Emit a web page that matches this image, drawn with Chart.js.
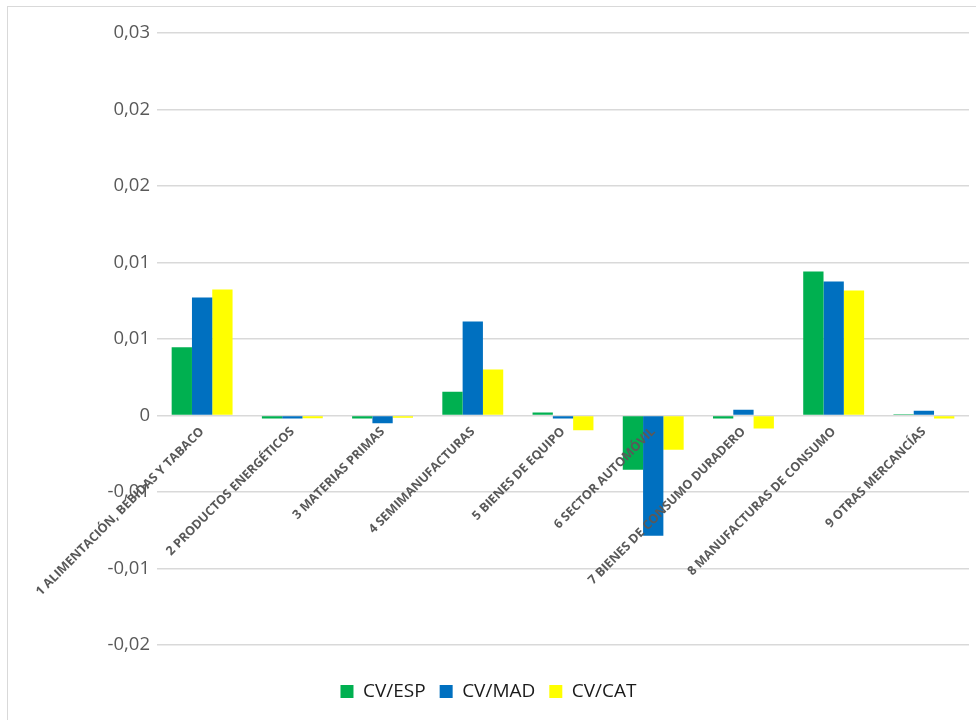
<!DOCTYPE html>
<html>
<head>
<meta charset="utf-8">
<script src="https://cdn.jsdelivr.net/npm/chart.js@4/dist/chart.umd.min.js"></script>
<style>
  body { margin: 0; background: #fff; }
  #frame {
    position: absolute; left: 7px; top: 6px;
    width: 969px; height: 714px;
    border-left: 1.5px solid #d9d9d9; border-top: 1.5px solid #d9d9d9;
  }
  #chart { display: block; }
</style>
</head>
<body>
<div id="frame"><canvas id="chart" width="969" height="714"></canvas></div>
<script>
// Categories
const categories = [
  '1 ALIMENTACIÓN, BEBIDAS Y TABACO',
  '2 PRODUCTOS ENERGÉTICOS',
  '3 MATERIAS PRIMAS',
  '4 SEMIMANUFACTURAS',
  '5 BIENES DE EQUIPO',
  '6 SECTOR AUTOMÓVIL',
  '7 BIENES DE CONSUMO DURADERO',
  '8 MANUFACTURAS DE CONSUMO',
  '9 OTRAS MERCANCÍAS'
];

// Series values
const cvEsp = [0.00445, -0.0002, -0.0002, 0.00155, 0.00018, -0.00355, -0.0002, 0.0094, 0.00008];
const cvMad = [0.0077, -0.0002, -0.00052, 0.00613, -0.0002, -0.00787, 0.00037, 0.00875, 0.0003];
const cvCat = [0.00823, -0.00018, -0.00015, 0.003, -0.00098, -0.00225, -0.00085, 0.00816, -0.0002];

// Y tick labels (bottom to top, as Excel rounded them)
const yTickLabels = ['-0,02', '-0,01', '-0,01', '0', '0,01', '0,01', '0,02', '0,02', '0,03'];
const yMin = -0.015, yMax = 0.025, yStep = 0.005;

const ctx = document.getElementById('chart').getContext('2d');
new Chart(ctx, {
  type: 'bar',
  data: {
    labels: categories,
    datasets: [
      { label: 'CV/ESP', data: cvEsp, backgroundColor: '#00b050' },
      { label: 'CV/MAD', data: cvMad, backgroundColor: '#0070c0' },
      { label: 'CV/CAT', data: cvCat, backgroundColor: '#ffff00' }
    ]
  },
  options: {
    responsive: false,
    animation: false,
    datasets: {
      bar: { categoryPercentage: 0.675, barPercentage: 1.0 }
    },
    layout: { padding: { left: 0, top: 26, right: 8, bottom: 10 } },
    plugins: {
      tooltip: { enabled: false },
      legend: {
        position: 'bottom',
        // empty title just to push the legend down
        title: { display: true, text: '', font: { size: 1 }, padding: { top: 22, bottom: 0 } },
        labels: {
          boxWidth: 13,
          boxHeight: 13,
          padding: 14,
          color: '#1a1a1a',
          font: { family: 'Open Sans', size: 19 }
        }
      }
    },
    scales: {
      x: {
        position: { y: 0 }, // axis crosses at zero like Excel
        grid: { display: false, drawTicks: false },
        border: { display: false },
        ticks: {
          z: 1,
          autoSkip: false,
          minRotation: 45,
          maxRotation: 45,
          padding: 9,
          color: '#595959',
          font: { family: 'Open Sans', size: 12.5, weight: 'bold' }
        }
      },
      y: {
        min: yMin,
        max: yMax,
        afterFit: s => { s.width = 149; },
        grid: { color: '#d9d9d9', lineWidth: 1.5, drawTicks: false },
        border: { display: false },
        ticks: {
          stepSize: yStep,
          padding: 7,
          color: '#595959',
          font: { family: 'Open Sans', size: 18.5 },
          callback: (v, i) => yTickLabels[i]
        }
      }
    }
  }
});
</script>
</body>
</html>
